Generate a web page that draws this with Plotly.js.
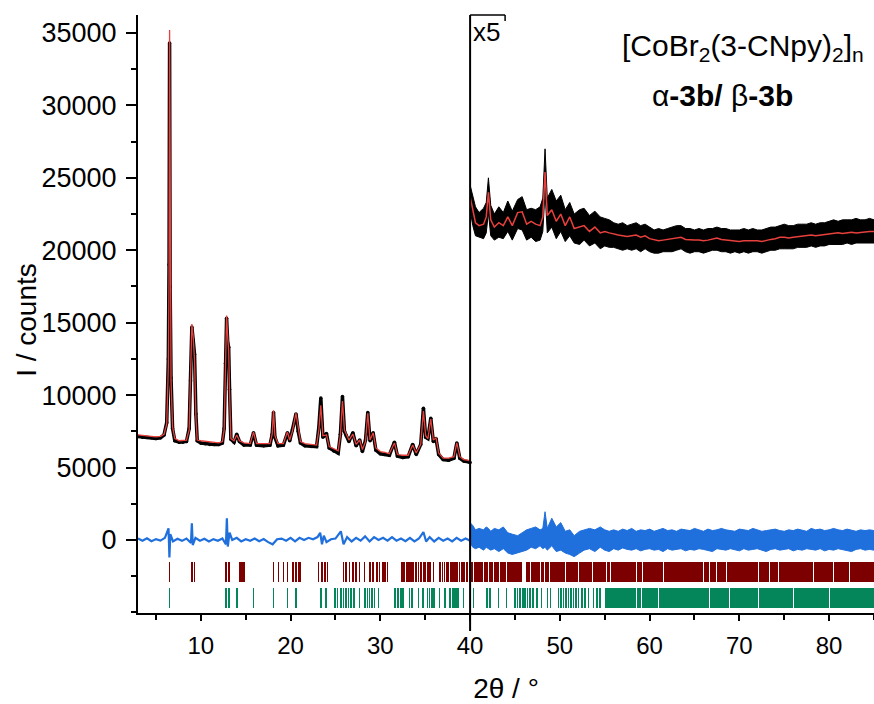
<!DOCTYPE html>
<html>
<head>
<meta charset="utf-8">
<script src="https://cdn.plot.ly/plotly-3.0.1.min.js"></script>
<style>html,body{margin:0;padding:0;background:#fff;}#chart{width:874px;height:704px;}</style>
</head>
<body>
<div id="chart"></div>
<script>
// ---------- Low-angle region (3-40 deg), unscaled ----------
const xLow = [3.0,3.5,4.0,4.5,5.0,5.5,5.9,6.2,6.38,6.46,6.52,6.58,6.68,6.85,7.1,7.6,8.0,8.4,8.7,8.85,
  9.0,9.15,9.3,9.45,9.6,10.0,10.5,11.0,11.5,12.0,12.4,12.6,12.75,12.87,13.0,13.1,13.2,13.35,13.7,14.0,
  14.3,14.8,15.5,15.87,16.2,17.0,17.7,17.95,18.1,18.25,18.6,19.2,19.65,19.9,20.2,20.6,20.85,21.1,21.6,22.3,
  22.9,23.15,23.37,23.6,24.0,24.3,24.8,25.3,25.55,25.78,26.0,26.2,26.5,26.94,27.3,27.7,28.0,28.35,28.6,28.85,
  29.2,29.5,30.0,30.5,31.0,31.57,31.9,32.5,33.1,33.6,34.0,34.5,34.8,35.05,35.3,35.62,35.9,36.2,36.5,37.0,
  37.6,38.2,38.52,38.85,39.3,39.8,40.0];
const calcLow = [7250,7200,7180,7150,7120,7150,7300,8000,12000,18000,35200,18000,11000,7800,7000,6850,6850,6900,7600,10800,
  14900,14000,12400,8500,6900,6850,6800,6750,6700,6700,6800,7600,11950,15500,13950,13100,10150,7000,6850,7250,
  6850,6700,6650,7450,6650,6650,6650,7300,8950,7200,6650,6650,7450,6900,7500,8750,7600,6800,6650,6600,
  6550,7600,9300,7200,7250,6450,6300,6150,7200,9600,7600,7300,6900,7300,6600,6900,6250,6800,8750,6900,
  7400,6350,6100,6050,5950,6700,5900,5850,5850,6550,6000,6600,8900,7200,7000,8350,6900,7050,6000,5650,
  5650,5750,6700,5750,5550,5500,5450];
const obsLow = [7150,7100,7080,7050,7000,7050,7250,8100,12500,19000,34300,17500,11200,7700,6850,6750,6750,6800,7700,11000,
  14700,13800,12800,8700,6850,6700,6650,6600,6600,6600,6700,7700,12200,15300,13600,13300,10400,6950,6750,7300,
  6800,6550,6550,7400,6550,6500,6550,7300,8800,7100,6500,6550,7400,6850,7600,8700,7500,6700,6500,6450,
  6450,7800,9800,7100,7350,6350,6150,6000,7300,9900,7500,7200,6800,7400,6500,6900,6100,6900,8800,6850,
  7400,6200,5950,5900,5850,6750,5800,5700,5750,6600,5900,6600,9100,7100,7000,8400,6800,7000,5900,5550,
  5500,5650,6700,5650,5450,5400,5350];
const xDiffLow = [3.0,3.5,4.0,4.5,5.0,5.5,6.0,6.4,6.5,6.6,6.9,7.4,7.9,8.4,8.9,9.0,9.1,9.4,9.9,10.4,
  10.9,11.4,11.9,12.4,12.8,12.9,13.0,13.2,13.5,14.0,14.5,15.0,15.5,16.0,16.5,17.0,17.5,18.0,18.5,19.0,
  19.5,20.0,20.5,21.0,21.5,22.0,22.5,23.0,23.3,23.5,23.7,24.0,24.5,25.0,25.6,25.9,26.3,26.8,27.3,27.8,
  28.3,28.8,29.3,29.8,30.3,30.8,31.3,31.8,32.3,32.8,33.3,33.8,34.3,34.8,35.1,35.5,36.0,36.5,37.0,37.5,
  38.0,38.5,39.0,39.5,40.0];
const diffLow = [100,-50,120,-80,60,-40,150,800,-1200,400,-100,80,-60,100,-200,1150,-350,150,-50,80,
  -100,60,-50,100,-300,1500,-450,500,0,150,-100,50,-50,100,-80,60,-150,-300,50,100,
  -50,150,-100,150,0,150,50,200,500,-300,300,-150,50,100,600,-300,200,-100,150,-50,
  250,-100,200,0,150,-50,200,-50,100,-80,150,-100,100,550,-100,200,-100,150,-50,100,
  -100,150,-50,100,-50];

// ---------- High-angle region (40-85 deg), displayed x5 ----------
const xHigh = [40.0,40.3,40.6,41.0,41.5,41.8,42.04,42.3,42.7,43.2,43.7,44.2,44.7,45.3,45.8,46.3,46.8,47.3,47.8,48.1,
  48.35,48.6,49.1,49.6,50.1,50.6,51.1,51.6,52.2,52.7,53.3,53.9,54.5,55.0,55.5,
  56.0,56.5,57.0,57.5,58.0,58.5,59.0,59.5,60.0,60.5,61.0,61.5,62.0,62.5,63.0,63.5,64.0,64.5,65.0,65.5,
  66.0,66.5,67.0,67.5,68.0,68.5,69.0,69.5,70.0,70.5,71.0,71.5,72.0,72.5,73.0,73.5,74.0,74.5,75.0,75.5,
  76.0,76.5,77.0,77.5,78.0,78.5,79.0,79.5,80.0,80.5,81.0,81.5,82.0,82.5,83.0,83.5,84.0,84.5,85.0];
const calcHigh = [23700,22800,21900,21700,21800,22300,24000,22100,21600,21900,21700,22300,21700,22600,22650,21800,22000,21800,21700,22300,
  25400,22400,22800,22000,22500,21700,22300,21500,21600,21700,21300,21600,21200,21300,21200,
  21100,21050,21000,20950,21000,21050,20900,21000,20800,20700,20650,20700,20750,20750,20850,20900,20750,20700,20700,20700,
  20650,20700,20750,20850,20750,20700,20650,20650,20600,20650,20650,20700,20650,20600,20700,20750,20800,20900,20900,20850,
  20900,20950,20950,21000,21050,21000,21050,21100,21100,21150,21200,21150,21200,21250,21200,21250,21300,21300,21300];
const obsHighUpper = [24500,23800,23000,22600,22900,23300,25000,23100,22500,23000,22600,23400,22700,23500,23700,22800,22900,22800,23000,23600,
  27000,23600,24200,23400,23800,22800,23300,22500,22800,22900,22400,22700,22300,22200,22100,
  21900,21800,21900,21700,21800,21900,21700,21800,21600,21400,21500,21400,21500,21600,21700,21700,21500,21500,21400,21500,
  21400,21500,21500,21600,21500,21500,21400,21400,21400,21500,21400,21500,21400,21400,21500,21600,21600,21700,21800,21700,
  21700,21800,21800,21800,21900,21800,21900,21900,22000,22100,22000,22100,22100,22100,22200,22100,22100,22200,22100];
const obsHighLower = [22800,21700,21000,20900,20800,21200,22600,21000,20700,20900,20800,21300,20700,21500,21400,20700,20900,20600,20700,21300,
  24000,21200,21600,20800,21300,20600,21000,20500,20400,20700,20300,20500,20100,20300,20200,
  20200,20100,20000,20100,20000,20100,19900,20100,19900,19800,19800,19900,19900,19900,20000,20100,19900,19800,19900,19900,
  19800,19900,20000,20000,19900,19900,19800,19900,19800,19900,19800,19900,19900,19800,19900,20000,20000,20100,20100,20100,
  20100,20200,20200,20200,20300,20200,20300,20300,20400,20400,20400,20400,20500,20400,20500,20500,20500,20500,20500];
const diffHighUpper = [1200,1000,700,800,700,900,800,600,800,700,900,500,400,300,500,700,800,900,700,800,
  1950,800,1500,900,1200,600,700,300,600,700,800,700,900,700,600,
  700,600,750,650,800,600,700,650,750,600,700,800,650,700,600,750,700,650,800,700,
  600,750,650,700,800,700,650,600,750,700,650,800,700,600,650,700,750,650,600,700,
  650,750,700,600,800,700,750,650,700,800,700,650,750,700,600,700,650,700,650];
const diffHighLower = [-200,-500,-600,-500,-700,-500,-600,-700,-600,-800,-600,-900,-1000,-900,-800,-700,-500,-600,-400,-600,
  -500,-700,-400,-800,-700,-900,-1000,-1150,-900,-700,-600,-800,-500,-700,-800,
  -600,-700,-550,-650,-700,-600,-750,-650,-600,-700,-650,-800,-600,-700,-650,-600,-750,-650,-700,-600,
  -650,-700,-800,-600,-650,-700,-600,-650,-750,-600,-700,-650,-600,-700,-800,-650,-600,-700,-650,-600,
  -750,-650,-700,-600,-650,-700,-600,-750,-650,-700,-600,-650,-700,-800,-650,-600,-700,-650,-700];

// ---------- Reflection positions ----------
const alphaTicks = [6.52,9.0,9.27,12.83,13.13,14.31,14.5,14.69,14.87,18.1,18.65,19.21,19.65,20.26,20.63,20.88,21.07,
  23.11,23.49,23.85,24.11,25.89,26.19,26.56,26.94,27.31,27.67,28.23,28.86,29.16,29.61,29.9,30.28,30.53,30.79,
  32.39,32.65,32.95,33.13,33.32,33.5,33.69,33.99,34.24,34.51,34.8,34.99,35.29,35.55,35.92,36.66,36.92,37.14,
  37.41,37.58,37.85,38.07,38.33,38.52,38.81,39.08,39.33,39.63,39.92];
const alphaBandStart = [39.95,40.42,41.53,42.09,42.65,43.32,44.13,46.2,46.73,47.85,48.29,48.88,50.07,50.63,51.74,52.11,53.71,
  54.08,55.27,55.72,58.61,59.28,61.58,66.03,66.7,67.52,68.64,72.16,72.79,73.38,74.38,78.28,80.51,82.36];
const alphaBandEnd = [40.32,41.43,41.99,42.55,43.22,44.03,45.76,46.63,47.75,48.19,48.78,49.97,50.53,51.64,52.01,53.61,53.98,
  55.17,55.62,58.51,59.18,61.48,65.93,66.6,67.42,68.54,72.06,72.69,73.28,74.28,78.18,80.41,82.26,85.0];
const betaTicks = [6.52,12.83,13.13,14.02,15.87,18.1,19.65,20.63,23.37,23.96,24.97,25.22,25.6,25.89,26.19,26.45,26.72,27.08,27.67,
  28.31,28.57,28.79,29.09,29.34,29.79,31.65,31.95,32.28,32.51,33.24,33.5,34.24,34.73,35.24,35.47,35.73,35.99,36.58,37.22,
  37.77,38.07,38.33,38.52,38.7,39.26,40.37,41.86,42.23,43.15,44.08,45.01,45.27,45.57,45.87,46.12,46.42,46.68,46.98,
  47.43,47.98,48.61,48.98,49.83,50.13,50.39,50.69,50.95,51.25,51.5,51.8,52.1,52.44,52.81,53.18,53.73,54.11,54.48];
const betaBandStart = [55.0,58.61,59.17,61.02,66.77,69.0,72.16,72.9,76.05,80.14];
const betaBandEnd = [58.51,59.07,60.92,66.67,68.9,72.06,72.8,75.95,80.04,85.0];

const yTickVals = [0, 5000, 10000, 15000, 20000, 25000, 30000, 35000];

const tickWidthDeg = 0.17;
const alphaRow = {base: -2880, height: 1380};
const betaRow = {base: -4700, height: 1380};

function reflectionBars(ticks, bStart, bEnd, row, color) {
  const x = [], w = [];
  ticks.forEach(t => { x.push(t); w.push(tickWidthDeg); });
  bStart.forEach((s, i) => { x.push((s + bEnd[i]) / 2); w.push(bEnd[i] - s); });
  return {
    type: 'bar', x: x, y: x.map(() => row.height), base: x.map(() => row.base), width: w,
    marker: {color: color, line: {width: 0}}, hoverinfo: 'skip', showlegend: false
  };
}

const RED = '#e8403c', BLUE = '#1f6fdc', DARKRED = '#7d0000', GREEN = '#05865a';
const FONT = 'Liberation Sans, Arial, sans-serif';

const traces = [
  reflectionBars(alphaTicks, alphaBandStart, alphaBandEnd, alphaRow, DARKRED),
  reflectionBars(betaTicks, betaBandStart, betaBandEnd, betaRow, GREEN),
  {type: 'scatter', mode: 'lines', x: xDiffLow, y: diffLow, line: {color: BLUE, width: 2.2}, hoverinfo: 'skip', showlegend: false},
  {type: 'scatter', mode: 'lines', x: xHigh, y: diffHighLower, line: {color: BLUE, width: 1}, hoverinfo: 'skip', showlegend: false},
  {type: 'scatter', mode: 'lines', x: xHigh, y: diffHighUpper, fill: 'tonexty', fillcolor: BLUE, line: {color: BLUE, width: 1}, hoverinfo: 'skip', showlegend: false},
  {type: 'scatter', mode: 'lines', x: xHigh, y: obsHighLower, line: {color: '#000', width: 1}, hoverinfo: 'skip', showlegend: false},
  {type: 'scatter', mode: 'lines', x: xHigh, y: obsHighUpper, fill: 'tonexty', fillcolor: '#000', line: {color: '#000', width: 1}, hoverinfo: 'skip', showlegend: false},
  {type: 'scatter', mode: 'lines+markers', x: xLow, y: obsLow, line: {color: '#000', width: 3.5}, marker: {color: '#000', size: 3.5}, hoverinfo: 'skip', showlegend: false},
  {type: 'scatter', mode: 'lines', x: xLow, y: calcLow, line: {color: RED, width: 1.3}, hoverinfo: 'skip', showlegend: false},
  {type: 'scatter', mode: 'lines', x: xHigh, y: calcHigh, line: {color: RED, width: 1.5}, hoverinfo: 'skip', showlegend: false}
];

const layout = {
  width: 874, height: 704,
  margin: {l: 138, r: 0, t: 15, b: 91},
  paper_bgcolor: '#fff', plot_bgcolor: '#fff',
  barmode: 'overlay', bargap: 0,
  font: {family: FONT, color: '#000'},
  xaxis: {
    range: [3, 85], tick0: 0, dtick: 10, showgrid: false, zeroline: false,
    showline: true, linecolor: '#000', linewidth: 2,
    ticks: 'outside', ticklen: 6, tickwidth: 2, tickcolor: '#000', ticklabelstandoff: 4,
    minor: {dtick: 5, ticks: 'outside', ticklen: 5, tickwidth: 2, tickcolor: '#000', showgrid: false},
    tickfont: {size: 24, family: FONT},
    title: {text: '2θ / °', font: {size: 28, family: FONT}, standoff: 26}
  },
  yaxis: {
    range: [-5040, 36240], tickvals: yTickVals, ticktext: yTickVals.map(String),
    showgrid: false, zeroline: false,
    showline: true, linecolor: '#000', linewidth: 2,
    ticks: 'outside', ticklen: 10, tickwidth: 2, tickcolor: '#000', ticklabelstandoff: 4,
    minor: {dtick: 2500, ticks: 'outside', ticklen: 5, tickwidth: 2, tickcolor: '#000', showgrid: false},
    tickfont: {size: 27, family: FONT}
  },
  shapes: [
    {type: 'line', xref: 'x', yref: 'paper', x0: 40, x1: 40, y0: -0.03, y1: 1, line: {color: '#000', width: 2}},
    {type: 'line', xref: 'x', yref: 'paper', x0: 40, x1: 43.9, y0: 1, y1: 1, line: {color: '#000', width: 1.5}},
    {type: 'line', xref: 'x', yref: 'paper', x0: 43.9, x1: 43.9, y0: 1, y1: 0.99, line: {color: '#000', width: 1.5}}
  ],
  annotations: [
    {xref: 'paper', yref: 'paper', x: -0.151, y: 0.49, xanchor: 'center', yanchor: 'middle', textangle: -90, showarrow: false,
     text: 'I / counts', font: {size: 28, family: FONT}},
    {xref: 'x', yref: 'paper', x: 40.15, y: 0.972, xanchor: 'left', yanchor: 'middle', showarrow: false,
     text: 'x5', font: {size: 26, family: FONT}},
    {xref: 'x', yref: 'paper', x: 84.1, y: 0.945, xanchor: 'right', yanchor: 'middle', showarrow: false,
     text: '[CoBr<sub>2</sub>(3-CNpy)<sub>2</sub>]<sub>n</sub>', font: {size: 30, family: FONT}},
    {xref: 'x', yref: 'paper', x: 68.1, y: 0.866, xanchor: 'center', yanchor: 'middle', showarrow: false,
     text: 'α<b>-3b/ </b>β<b>-3b</b>', font: {size: 30, family: FONT}}
  ]
};

Plotly.newPlot('chart', traces, layout, {staticPlot: true, displayModeBar: false});
</script>
</body>
</html>
